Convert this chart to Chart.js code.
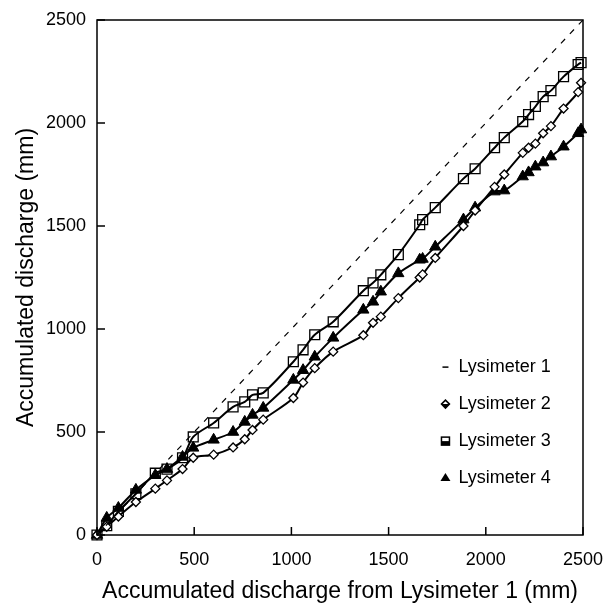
<!DOCTYPE html>
<html>
<head>
<meta charset="utf-8">
<script src="https://cdn.jsdelivr.net/npm/chart.js@4/dist/chart.umd.min.js"></script>
<style>
  html, body { margin: 0; padding: 0; background: #fff; }
  #wrap { width: 605px; height: 605px; position: relative; }
</style>
</head>
<body>
<div id="wrap"><canvas id="chart"></canvas></div>
<script>
// accumulated discharge of Lysimeter 1 (x), mm
const lysX = [0, 50, 110, 200, 300, 360, 440, 495, 600, 700, 760, 800, 855, 1010, 1060, 1120, 1215, 1370, 1420, 1460,
  1550, 1660, 1675, 1740, 1885, 1945, 2045, 2095, 2190, 2220, 2255, 2295, 2335, 2400, 2475, 2490];
const lys1X = [0, 2500];
const lys1Y = [0, 2500];
const lys2 = [0, 40, 90, 160, 225, 265, 320, 375, 390, 425, 465, 510, 560, 665, 740, 810, 890, 970, 1030, 1060,
  1150, 1250, 1265, 1345, 1500, 1575, 1690, 1750, 1855, 1880, 1900, 1950, 1985, 2070, 2150, 2195];
const lys3 = [0, 45, 115, 200, 300, 320, 375, 476, 544, 622, 646, 680, 690, 841, 899, 972, 1035, 1186, 1224, 1263,
  1361, 1506, 1531, 1589, 1730, 1778, 1880, 1929, 2007, 2041, 2080, 2128, 2157, 2225, 2284, 2293];
const lys4 = [0, 83, 131, 219, 290, 320, 379, 423, 462, 500, 549, 583, 617, 753, 800, 865, 957, 1093, 1132, 1181,
  1270, 1336, 1340, 1399, 1531, 1589, 1667, 1672, 1740, 1760, 1788, 1808, 1837, 1885, 1950, 1968];
const tickVals = [0, 500, 1000, 1500, 2000, 2500];
const labels = ['Lysimeter 1', 'Lysimeter 2', 'Lysimeter 3', 'Lysimeter 4'];

const FONT = "'Liberation Sans', Arial, sans-serif";

function pts(xs, ys) {
  return xs.map((x, i) => ({ x: x, y: ys[i] }));
}

// box round the plot, inward ticks and the legend
const frame = {
  id: 'frame',
  afterDraw(chart) {
    const ctx = chart.ctx;
    const a = chart.chartArea;
    const sx = chart.scales.x, sy = chart.scales.y;
    ctx.save();
    ctx.strokeStyle = '#000';
    ctx.lineWidth = 1.5;
    ctx.strokeRect(a.left, a.top, a.right - a.left, a.bottom - a.top);
    ctx.beginPath();
    tickVals.forEach(v => {
      const px = sx.getPixelForValue(v);
      ctx.moveTo(px, a.bottom); ctx.lineTo(px, a.bottom - 8);
      const py = sy.getPixelForValue(v);
      ctx.moveTo(a.left, py); ctx.lineTo(a.left + 8, py);
    });
    ctx.stroke();

    // legend
    const lx = a.left + (a.right - a.left) * 0.717;
    const ly = a.top + (a.bottom - a.top) * 0.674;
    const gap = 37;
    ctx.font = '18px ' + FONT;
    ctx.fillStyle = '#000';
    ctx.textBaseline = 'middle';
    labels.forEach((t, i) => {
      const y = ly + i * gap;
      const x = lx;
      ctx.lineWidth = 1.5;
      ctx.beginPath();
      if (i === 0) {
        ctx.moveTo(x - 3, y); ctx.lineTo(x + 3, y);
        ctx.stroke();
      } else if (i === 1) {
        ctx.fillStyle = '#fff';
        ctx.beginPath();
        ctx.moveTo(x, y - 4); ctx.lineTo(x + 4, y); ctx.lineTo(x, y + 4); ctx.lineTo(x - 4, y); ctx.closePath();
        ctx.fill(); ctx.stroke();
        ctx.fillStyle = '#000';
        ctx.beginPath();
        ctx.moveTo(x - 4, y); ctx.lineTo(x + 4, y); ctx.lineTo(x, y + 4); ctx.closePath(); ctx.fill();
      } else if (i === 2) {
        ctx.fillStyle = '#fff';
        ctx.fillRect(x - 4, y - 4, 8, 8);
        ctx.strokeRect(x - 4, y - 4, 8, 8);
        ctx.fillStyle = '#000';
        ctx.fillRect(x - 4, y, 8, 4);
      } else {
        ctx.fillStyle = '#000';
        ctx.beginPath();
        ctx.moveTo(x, y - 5); ctx.lineTo(x + 5, y + 3); ctx.lineTo(x - 5, y + 3); ctx.closePath();
        ctx.fill();
      }
      ctx.fillStyle = '#000';
      ctx.fillText(t, x + 13, y);
    });
    ctx.restore();
  }
};

new Chart(document.getElementById('chart'), {
  type: 'scatter',
  data: {
    datasets: [{
      label: labels[0],
      data: pts(lys1X, lys1Y),
      showLine: true,
      borderColor: '#000',
      borderWidth: 1.2,
      borderDash: [6, 7],
      pointRadius: 0,
      clip: false
    }, {
      label: labels[1],
      data: pts(lysX, lys2),
      showLine: true,
      tension: 0.3,
      borderColor: '#000',
      borderWidth: 2,
      pointStyle: 'rectRot',
      pointRadius: 4.5,
      pointBorderWidth: 1.3,
      pointBackgroundColor: '#fff',
      pointBorderColor: '#000',
      clip: false
    }, {
      label: labels[2],
      data: pts(lysX, lys3),
      showLine: true,
      tension: 0.3,
      borderColor: '#000',
      borderWidth: 2,
      pointStyle: 'rect',
      pointRadius: 7,
      pointBorderWidth: 1.3,
      pointBackgroundColor: 'rgba(255,255,255,0)',
      pointBorderColor: '#000',
      clip: false
    }, {
      label: labels[3],
      data: pts(lysX, lys4),
      showLine: true,
      tension: 0.3,
      borderColor: '#000',
      borderWidth: 2,
      pointStyle: 'triangle',
      pointRadius: 6.5,
      pointBorderWidth: 1,
      pointBackgroundColor: '#000',
      pointBorderColor: '#000',
      clip: false
    }]
  },
  options: {
    responsive: true,
    maintainAspectRatio: false,
    animation: false,
    layout: { padding: { left: 0, right: 22, top: 20, bottom: 0 } },
    plugins: {
      legend: { display: false },
      tooltip: { enabled: false }
    },
    scales: {
      x: {
        type: 'linear',
        min: 0,
        max: 2500,
        afterFit: s => { s.height = 70; s.paddingLeft = 0; s.paddingRight = 0; },
        afterBuildTicks: s => { s.ticks = tickVals.map(v => ({ value: v })); },
        grid: { display: false, drawTicks: false },
        border: { display: false },
        ticks: { color: '#000', padding: 14, maxRotation: 0, callback: v => String(v), font: { family: FONT, size: 18 } },
        title: {
          display: true,
          text: 'Accumulated discharge from Lysimeter 1 (mm)',
          color: '#000',
          font: { family: FONT, size: 23 },
          padding: { top: 0, bottom: 0 }
        }
      },
      y: {
        type: 'linear',
        min: 0,
        max: 2500,
        afterFit: s => { s.width = 97; s.paddingTop = 0; s.paddingBottom = 0; },
        afterBuildTicks: s => { s.ticks = tickVals.map(v => ({ value: v })); },
        grid: { display: false, drawTicks: false },
        border: { display: false },
        ticks: { color: '#000', padding: 11, callback: v => String(v), font: { family: FONT, size: 18 } },
        title: {
          display: true,
          text: 'Accumulated discharge (mm)',
          color: '#000',
          font: { family: FONT, size: 23 },
          padding: { top: 13, bottom: 0 }
        }
      }
    }
  },
  plugins: [frame]
});
</script>
</body>
</html>
